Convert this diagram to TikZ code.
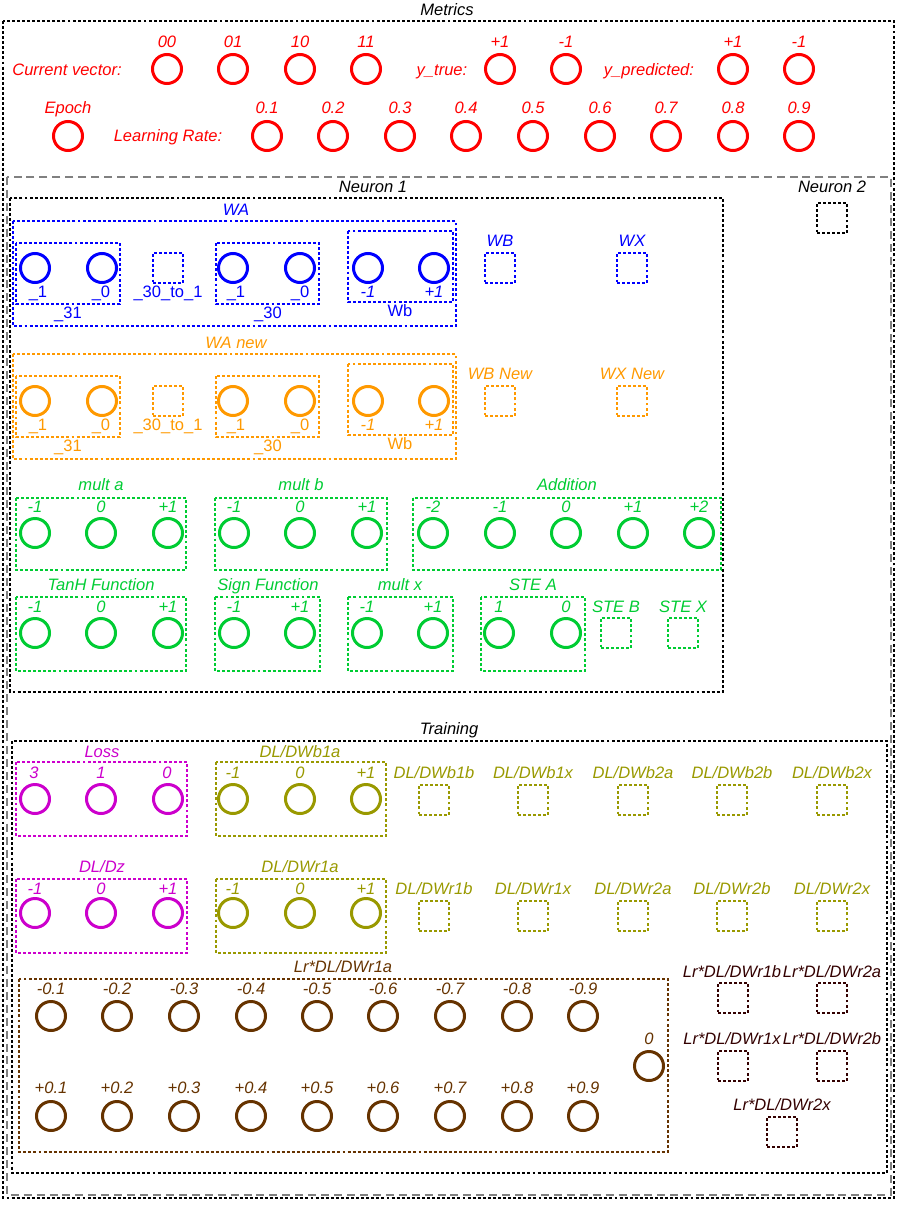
\documentclass[tikz,border=0pt]{standalone}
\usepackage{fontspec}
\setmainfont{Liberation Sans}
\usepackage{tikz}
\usepackage{xcolor}
\definecolor{mred}{RGB}{255,0,0}
\definecolor{mblue}{RGB}{0,0,255}
\definecolor{morange}{RGB}{255,153,0}
\definecolor{mgreen}{RGB}{0,204,51}
\definecolor{mmag}{RGB}{204,0,204}
\definecolor{molive}{RGB}{153,153,0}
\definecolor{mbrown}{RGB}{102,51,0}
\definecolor{mdark}{RGB}{51,0,0}

\begin{document}
\begin{tikzpicture}[x=0.75pt,y=-0.75pt,
        txt/.style={inner sep=0pt,text height=8.9pt,text depth=0pt,font=\fontsize{12.4}{14}\selectfont\itshape},
        txtup/.style={txt,font=\fontsize{12.4}{14}\selectfont\upshape},
        neuron/.style={circle,draw,line width=2.25pt,minimum size=21.75pt,inner sep=0pt},
        dotbox/.style={line width=1.1pt,dash pattern=on 2.2pt off 1.6pt},
        cell/.style={rectangle,draw,dotbox,minimum size=22.5pt,inner sep=0pt}]
        \useasboundingbox (0,0) rectangle (897,1217);
        % frames
        \node[txt] (metrics) at (447,10) {Metrics};
        \draw[dotbox] (3,21) rectangle (894,1198);
        \draw[line width=1.1pt,gray,dash pattern=on 6pt off 3.7pt] (7,177) rectangle (891,1195);
        \node[txt] (neuron1) at (373,187) {Neuron 1};
        \draw[dotbox] (10,198) rectangle (723,692);
        \node[txt] (neuron2) at (832,187) {Neuron 2};
        \node[cell] (n2) at (832,218) {};
        % metrics
        \node[txt,mred] (cvt) at (67,70) {Current vector:};
        \node[neuron,mred] (cv00) at (167,69) {};
        \node[txt,mred] (cv00t) at (167,42) {00};
        \node[neuron,mred] (cv01) at (233,69) {};
        \node[txt,mred] (cv01t) at (233,42) {01};
        \node[neuron,mred] (cv10) at (300,69) {};
        \node[txt,mred] (cv10t) at (300,42) {10};
        \node[neuron,mred] (cv11) at (366,69) {};
        \node[txt,mred] (cv11t) at (366,42) {11};
        \node[txt,mred] (ytt) at (442,70) {y\_true:};
        \node[neuron,mred] (ytp) at (500,69) {};
        \node[txt,mred] (ytpt) at (500,42) {+1};
        \node[neuron,mred] (ytm) at (566,69) {};
        \node[txt,mred] (ytmt) at (566,42) {-1};
        \node[txt,mred] (ypt) at (649,70) {y\_predicted:};
        \node[neuron,mred] (ypp) at (733,69) {};
        \node[txt,mred] (yppt) at (733,42) {+1};
        \node[neuron,mred] (ypm) at (799,69) {};
        \node[txt,mred] (ypmt) at (799,42) {-1};
        \node[txt,mred] (ept) at (68,108) {Epoch};
        \node[neuron,mred] (ep) at (68,136) {};
        \node[txt,mred] (lrt) at (168,136) {Learning Rate:};
        \node[neuron,mred] (lr1) at (267,136) {};
        \node[txt,mred] (lr1t) at (267,108) {0.1};
        \node[neuron,mred] (lr2) at (333,136) {};
        \node[txt,mred] (lr2t) at (333,108) {0.2};
        \node[neuron,mred] (lr3) at (400,136) {};
        \node[txt,mred] (lr3t) at (400,108) {0.3};
        \node[neuron,mred] (lr4) at (466,136) {};
        \node[txt,mred] (lr4t) at (466,108) {0.4};
        \node[neuron,mred] (lr5) at (533,136) {};
        \node[txt,mred] (lr5t) at (533,108) {0.5};
        \node[neuron,mred] (lr6) at (600,136) {};
        \node[txt,mred] (lr6t) at (600,108) {0.6};
        \node[neuron,mred] (lr7) at (666,136) {};
        \node[txt,mred] (lr7t) at (666,108) {0.7};
        \node[neuron,mred] (lr8) at (733,136) {};
        \node[txt,mred] (lr8t) at (733,108) {0.8};
        \node[neuron,mred] (lr9) at (799,136) {};
        \node[txt,mred] (lr9t) at (799,108) {0.9};
        % WA
        \node[txt,mblue] (wat) at (236,210) {WA};
        \draw[dotbox,mblue] (13,221) rectangle (456,326);
        \draw[dotbox,mblue] (16,243) rectangle (120,304);
        \node[neuron,mblue] (wa311) at (35,268) {};
        \node[txtup,mblue] (wa311t) at (38,292) {\_1};
        \node[neuron,mblue] (wa310) at (102,268) {};
        \node[txtup,mblue] (wa310t) at (101,292) {\_0};
        \node[txtup,mblue] (wa31t) at (68,313) {\_31};
        \node[cell,mblue] (wamid) at (168,268) {};
        \node[txtup,mblue] (wamidt) at (168,292) {\_30\_to\_1};
        \draw[dotbox,mblue] (216,243) rectangle (319,304);
        \node[neuron,mblue] (wa301) at (233,268) {};
        \node[txtup,mblue] (wa301t) at (236,292) {\_1};
        \node[neuron,mblue] (wa300) at (300,268) {};
        \node[txtup,mblue] (wa300t) at (300,292) {\_0};
        \node[txtup,mblue] (wa30t) at (268,313) {\_30};
        \draw[dotbox,mblue] (348,231) rectangle (453,302);
        \node[neuron,mblue] (wbm) at (368,268) {};
        \node[txt,mblue] (wbmt) at (368,292) {-1};
        \node[neuron,mblue] (wbp) at (434,268) {};
        \node[txt,mblue] (wbpt) at (434,292) {+1};
        \node[txtup,mblue] (wbt) at (400,311) {Wb};
        \node[txt,mblue] (wbbt) at (500,241) {WB};
        \node[cell,mblue] (wbb) at (500,268) {};
        \node[txt,mblue] (wxt) at (632,241) {WX};
        \node[cell,mblue] (wx) at (632,268) {};
        % WA new
        \node[txt,morange] (wnt) at (236,343) {WA new};
        \draw[dotbox,morange] (13,354) rectangle (456,459);
        \draw[dotbox,morange] (16,376) rectangle (120,437);
        \node[neuron,morange] (wn311) at (35,401) {};
        \node[txtup,morange] (wn311t) at (38,425) {\_1};
        \node[neuron,morange] (wn310) at (102,401) {};
        \node[txtup,morange] (wn310t) at (101,425) {\_0};
        \node[txtup,morange] (wn31t) at (68,446) {\_31};
        \node[cell,morange] (wnmid) at (168,401) {};
        \node[txtup,morange] (wnmidt) at (168,425) {\_30\_to\_1};
        \draw[dotbox,morange] (216,376) rectangle (319,437);
        \node[neuron,morange] (wn301) at (233,401) {};
        \node[txtup,morange] (wn301t) at (236,425) {\_1};
        \node[neuron,morange] (wn300) at (300,401) {};
        \node[txtup,morange] (wn300t) at (300,425) {\_0};
        \node[txtup,morange] (wn30t) at (268,446) {\_30};
        \draw[dotbox,morange] (348,364) rectangle (453,435);
        \node[neuron,morange] (wnbm) at (368,401) {};
        \node[txt,morange] (wnbmt) at (368,425) {-1};
        \node[neuron,morange] (wnbp) at (434,401) {};
        \node[txt,morange] (wnbpt) at (434,425) {+1};
        \node[txtup,morange] (wnbt) at (400,444) {Wb};
        \node[txt,morange] (wbnt) at (500,374) {WB New};
        \node[cell,morange] (wbn) at (500,401) {};
        \node[txt,morange] (wxnt) at (632,374) {WX New};
        \node[cell,morange] (wxn) at (632,401) {};
        % mult a, mult b, addition
        \node[txt,mgreen] (mat) at (101,485) {mult a};
        \draw[dotbox,mgreen] (16,498) rectangle (186,570);
        \node[neuron,mgreen] (mam) at (35,533) {};
        \node[txt,mgreen] (mamt) at (35,507) {-1};
        \node[neuron,mgreen] (ma0) at (101,533) {};
        \node[txt,mgreen] (ma0t) at (101,507) {0};
        \node[neuron,mgreen] (map) at (168,533) {};
        \node[txt,mgreen] (mapt) at (168,507) {+1};
        \node[txt,mgreen] (mbt) at (301,485) {mult b};
        \draw[dotbox,mgreen] (215,498) rectangle (387,570);
        \node[neuron,mgreen] (mbm) at (234,533) {};
        \node[txt,mgreen] (mbmt) at (234,507) {-1};
        \node[neuron,mgreen] (mb0) at (300,533) {};
        \node[txt,mgreen] (mb0t) at (300,507) {0};
        \node[neuron,mgreen] (mbp) at (367,533) {};
        \node[txt,mgreen] (mbpt) at (367,507) {+1};
        \node[txt,mgreen] (addt) at (567,485) {Addition};
        \draw[dotbox,mgreen] (413,498) rectangle (721,570);
        \node[neuron,mgreen] (addm2) at (433,533) {};
        \node[txt,mgreen] (addm2t) at (433,507) {-2};
        \node[neuron,mgreen] (addm1) at (500,533) {};
        \node[txt,mgreen] (addm1t) at (500,507) {-1};
        \node[neuron,mgreen] (add0) at (566,533) {};
        \node[txt,mgreen] (add0t) at (566,507) {0};
        \node[neuron,mgreen] (addp1) at (633,533) {};
        \node[txt,mgreen] (addp1t) at (633,507) {+1};
        \node[neuron,mgreen] (addp2) at (699,533) {};
        \node[txt,mgreen] (addp2t) at (699,507) {+2};
        % tanh, sign, mult x, ste
        \node[txt,mgreen] (tht) at (101,585) {TanH Function};
        \draw[dotbox,mgreen] (16,597) rectangle (186,671);
        \node[neuron,mgreen] (thm) at (35,633) {};
        \node[txt,mgreen] (thmt) at (35,607) {-1};
        \node[neuron,mgreen] (th0) at (101,633) {};
        \node[txt,mgreen] (th0t) at (101,607) {0};
        \node[neuron,mgreen] (thp) at (168,633) {};
        \node[txt,mgreen] (thpt) at (168,607) {+1};
        \node[txt,mgreen] (sgt) at (268,585) {Sign Function};
        \draw[dotbox,mgreen] (215,597) rectangle (320,671);
        \node[neuron,mgreen] (sgm) at (234,633) {};
        \node[txt,mgreen] (sgmt) at (234,607) {-1};
        \node[neuron,mgreen] (sgp) at (300,633) {};
        \node[txt,mgreen] (sgpt) at (300,607) {+1};
        \node[txt,mgreen] (mxt) at (400,585) {mult x};
        \draw[dotbox,mgreen] (348,597) rectangle (453,671);
        \node[neuron,mgreen] (mxm) at (367,633) {};
        \node[txt,mgreen] (mxmt) at (367,607) {-1};
        \node[neuron,mgreen] (mxp) at (433,633) {};
        \node[txt,mgreen] (mxpt) at (433,607) {+1};
        \node[txt,mgreen] (stat) at (533,585) {STE A};
        \draw[dotbox,mgreen] (481,597) rectangle (585,671);
        \node[neuron,mgreen] (sta1) at (499,633) {};
        \node[txt,mgreen] (sta1t) at (499,607) {1};
        \node[neuron,mgreen] (sta0) at (566,633) {};
        \node[txt,mgreen] (sta0t) at (566,607) {0};
        \node[txt,mgreen] (stbt) at (616,607) {STE B};
        \node[cell,mgreen] (stb) at (616,633) {};
        \node[txt,mgreen] (stxt) at (683,607) {STE X};
        \node[cell,mgreen] (stx) at (683,633) {};
        % training
        \node[txt] (training) at (449,729) {Training};
        \draw[dotbox] (12,741) rectangle (887,1173);
        \node[txt,mmag] (losst) at (102,752) {Loss};
        \draw[dotbox,mmag] (16,762) rectangle (187,836);
        \node[neuron,mmag] (loss3) at (35,799) {};
        \node[txt,mmag] (loss3t) at (34,773) {3};
        \node[neuron,mmag] (loss1) at (101,799) {};
        \node[txt,mmag] (loss1t) at (101,773) {1};
        \node[neuron,mmag] (loss0) at (168,799) {};
        \node[txt,mmag] (loss0t) at (167,773) {0};
        \node[txt,molive] (b1at) at (300,752) {DL/DWb1a};
        \draw[dotbox,molive] (216,762) rectangle (386,836);
        \node[neuron,molive] (b1am) at (233,799) {};
        \node[txt,molive] (b1amt) at (233,773) {-1};
        \node[neuron,molive] (b1a0) at (300,799) {};
        \node[txt,molive] (b1a0t) at (300,773) {0};
        \node[neuron,molive] (b1ap) at (366,799) {};
        \node[txt,molive] (b1apt) at (366,773) {+1};
        \node[txt,molive] (b1bt) at (434,773) {DL/DWb1b};
        \node[cell,molive] (b1b) at (434,800) {};
        \node[txt,molive] (b1xt) at (533,773) {DL/DWb1x};
        \node[cell,molive] (b1x) at (533,800) {};
        \node[txt,molive] (b2at) at (633,773) {DL/DWb2a};
        \node[cell,molive] (b2a) at (633,800) {};
        \node[txt,molive] (b2bt) at (732,773) {DL/DWb2b};
        \node[cell,molive] (b2b) at (732,800) {};
        \node[txt,molive] (b2xt) at (832,773) {DL/DWb2x};
        \node[cell,molive] (b2x) at (832,800) {};
        \node[txt,mmag] (dzt) at (102,867) {DL/Dz};
        \draw[dotbox,mmag] (16,879) rectangle (187,953);
        \node[neuron,mmag] (dzm) at (35,913) {};
        \node[txt,mmag] (dzmt) at (35,889) {-1};
        \node[neuron,mmag] (dz0) at (101,913) {};
        \node[txt,mmag] (dz0t) at (101,889) {0};
        \node[neuron,mmag] (dzp) at (168,913) {};
        \node[txt,mmag] (dzpt) at (168,889) {+1};
        \node[txt,molive] (r1at) at (300,867) {DL/DWr1a};
        \draw[dotbox,molive] (216,879) rectangle (386,953);
        \node[neuron,molive] (r1am) at (233,913) {};
        \node[txt,molive] (r1amt) at (233,889) {-1};
        \node[neuron,molive] (r1a0) at (300,913) {};
        \node[txt,molive] (r1a0t) at (300,889) {0};
        \node[neuron,molive] (r1ap) at (366,913) {};
        \node[txt,molive] (r1apt) at (366,889) {+1};
        \node[txt,molive] (r1bt) at (434,889) {DL/DWr1b};
        \node[cell,molive] (r1b) at (434,916) {};
        \node[txt,molive] (r1xt) at (533,889) {DL/DWr1x};
        \node[cell,molive] (r1x) at (533,916) {};
        \node[txt,molive] (r2at) at (633,889) {DL/DWr2a};
        \node[cell,molive] (r2a) at (633,916) {};
        \node[txt,molive] (r2bt) at (732,889) {DL/DWr2b};
        \node[cell,molive] (r2b) at (732,916) {};
        \node[txt,molive] (r2xt) at (832,889) {DL/DWr2x};
        \node[cell,molive] (r2x) at (832,916) {};
        % Lr*DL/DWr1a
        \node[txt,mbrown] (lrr1at) at (343,967) {Lr*DL/DWr1a};
        \draw[dotbox,mbrown] (19,979) rectangle (668,1152);
        \node[neuron,mbrown] (lm1) at (51,1016) {};
        \node[txt,mbrown] (lm1t) at (51,989) {-0.1};
        \node[neuron,mbrown] (lm2) at (117,1016) {};
        \node[txt,mbrown] (lm2t) at (117,989) {-0.2};
        \node[neuron,mbrown] (lm3) at (184,1016) {};
        \node[txt,mbrown] (lm3t) at (184,989) {-0.3};
        \node[neuron,mbrown] (lm4) at (251,1016) {};
        \node[txt,mbrown] (lm4t) at (251,989) {-0.4};
        \node[neuron,mbrown] (lm5) at (317,1016) {};
        \node[txt,mbrown] (lm5t) at (317,989) {-0.5};
        \node[neuron,mbrown] (lm6) at (383,1016) {};
        \node[txt,mbrown] (lm6t) at (383,989) {-0.6};
        \node[neuron,mbrown] (lm7) at (450,1016) {};
        \node[txt,mbrown] (lm7t) at (450,989) {-0.7};
        \node[neuron,mbrown] (lm8) at (517,1016) {};
        \node[txt,mbrown] (lm8t) at (517,989) {-0.8};
        \node[neuron,mbrown] (lm9) at (583,1016) {};
        \node[txt,mbrown] (lm9t) at (583,989) {-0.9};
        \node[neuron,mbrown] (lp1) at (51,1116) {};
        \node[txt,mbrown] (lp1t) at (51,1088) {+0.1};
        \node[neuron,mbrown] (lp2) at (117,1116) {};
        \node[txt,mbrown] (lp2t) at (117,1088) {+0.2};
        \node[neuron,mbrown] (lp3) at (184,1116) {};
        \node[txt,mbrown] (lp3t) at (184,1088) {+0.3};
        \node[neuron,mbrown] (lp4) at (251,1116) {};
        \node[txt,mbrown] (lp4t) at (251,1088) {+0.4};
        \node[neuron,mbrown] (lp5) at (317,1116) {};
        \node[txt,mbrown] (lp5t) at (317,1088) {+0.5};
        \node[neuron,mbrown] (lp6) at (383,1116) {};
        \node[txt,mbrown] (lp6t) at (383,1088) {+0.6};
        \node[neuron,mbrown] (lp7) at (450,1116) {};
        \node[txt,mbrown] (lp7t) at (450,1088) {+0.7};
        \node[neuron,mbrown] (lp8) at (517,1116) {};
        \node[txt,mbrown] (lp8t) at (517,1088) {+0.8};
        \node[neuron,mbrown] (lp9) at (583,1116) {};
        \node[txt,mbrown] (lp9t) at (583,1088) {+0.9};
        \node[neuron,mbrown] (lz) at (649,1066) {};
        \node[txt,mbrown] (lzt) at (649,1039) {0};
        % other Lr*DL cells
        \node[txt,mdark] (lr1bt) at (732,972) {Lr*DL/DWr1b};
        \node[cell,mdark] (lr1b) at (733,998) {};
        \node[txt,mdark] (lr2at) at (832,972) {Lr*DL/DWr2a};
        \node[cell,mdark] (lr2a) at (832,998) {};
        \node[txt,mdark] (lr1xt) at (732,1039) {Lr*DL/DWr1x};
        \node[cell,mdark] (lr1x) at (733,1066) {};
        \node[txt,mdark] (lr2bt) at (832,1039) {Lr*DL/DWr2b};
        \node[cell,mdark] (lr2b) at (832,1066) {};
        \node[txt,mdark] (lr2xt) at (782,1105) {Lr*DL/DWr2x};
        \node[cell,mdark] (lr2x) at (782,1132) {};
    \end{tikzpicture}
\end{document}
